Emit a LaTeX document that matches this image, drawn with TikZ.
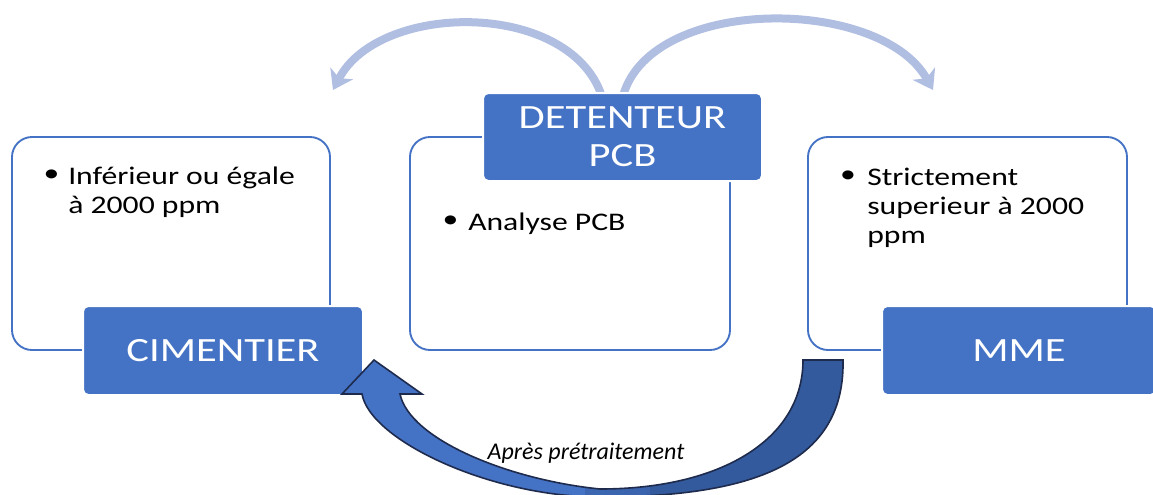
\documentclass[tikz,border=0pt]{standalone}
\usepackage{fontspec}
\setmainfont{Carlito}[FakeStretch=1.25]
\newfontfamily\lblfont{Carlito}
\usetikzlibrary{arrows.meta}
\definecolor{accent}{HTML}{4472C4}
\definecolor{accentdark}{HTML}{335A9D}
\definecolor{arcblue}{HTML}{B0BEE2}
\definecolor{navy}{HTML}{1F2B4D}
\begin{document}
\begin{tikzpicture}[x=0.75pt,y=-0.75pt,
  panel/.style={draw=accent, line width=1.4pt, fill=white, rounded corners=15pt,
    minimum height=159.75pt, inner sep=0pt},
  titlebox/.style={fill=accent, draw=white, line width=1.5pt, rounded corners=4pt,
    text=white, font=\fontsize{25.5}{28.5}\selectfont, align=center, inner sep=0pt,
    minimum height=66.75pt},
  bullettext/.style={font=\fontsize{19}{21.75}\selectfont, align=left, anchor=base west, inner sep=0pt},
  dot/.style={font=\fontsize{19}{21.75}\selectfont, inner sep=0pt},
  arcarrow/.style={draw=arcblue, line width=6pt, -{Stealth[length=14pt,width=19pt,inset=4pt]}},
  bigarrow/.style={fill=accent, draw=navy, line width=1.2pt, line join=miter},
  lbl/.style={font=\lblfont\itshape\fontsize{18}{21}\selectfont, anchor=base, inner sep=0pt}
]
\useasboundingbox (0,0) rectangle (1153,494);

% top arcs (behind the DETENTEUR box)
\coordinate (la0) at (603,100);
\coordinate (la1) at (333,90);
\coordinate (ra0) at (622,100);
\coordinate (ra1) at (933,90);
\draw[arcarrow] (la0) .. controls (575,0) and (380,0) .. (la1);
\draw[arcarrow] (ra0) .. controls (645,-5) and (880,-5) .. (ra1);

% panels
\node[panel, minimum width=238.5pt] (lb) at (171,243.5) {};
\node[panel, minimum width=240pt] (mb) at (570,243.5) {};
\node[panel, minimum width=239.25pt] (rb) at (967.5,243.5) {};

% title boxes
\node[titlebox, minimum width=210pt] (lt) at (223,350.5) {CIMENTIER};
\node[titlebox, minimum width=209.25pt, minimum height=66pt] (mt) at (622.5,137) {DETENTEUR\\PCB};
\node[titlebox, minimum width=205.5pt] (rt) at (1019,350.5) {MME};

% bullets (base anchor = last line's baseline)
\node[dot] (ld) at (51.5,176) {•};
\node[bullettext] (ltx) at (68,213) {Inférieur ou égale\\à 2000 ppm};
\node[dot] (md) at (450.5,222) {•};
\node[bullettext] (mtx) at (468,230) {Analyse PCB};
\node[dot] (rd) at (848,177) {•};
\node[bullettext] (rtx) at (867,243) {Strictement\\superieur à 2000\\ppm};

% bottom curved block arrow
\coordinate (tailO) at (843,360);
\coordinate (tailI) at (803,360);
\coordinate (tip) at (374,360);
\path[bigarrow, path picture={
    \fill[left color=accent, right color=accentdark] (585,300) rectangle (650,520);
    \fill[accentdark] (650,300) rectangle (900,520);}]
  (tailO) .. controls (845,460) and (760,497) .. (600,497)
  .. controls (490,497) and (370,440) .. (362,394)
  -- (342,394) -- (tip) -- (422,394) -- (400,394)
  .. controls (410,440) and (510,480) .. (600,489)
  .. controls (720,489) and (803,440) .. (tailI) -- cycle;
\node[lbl] (apres) at (586,459) {Après prétraitement};
\end{tikzpicture}
\end{document}
